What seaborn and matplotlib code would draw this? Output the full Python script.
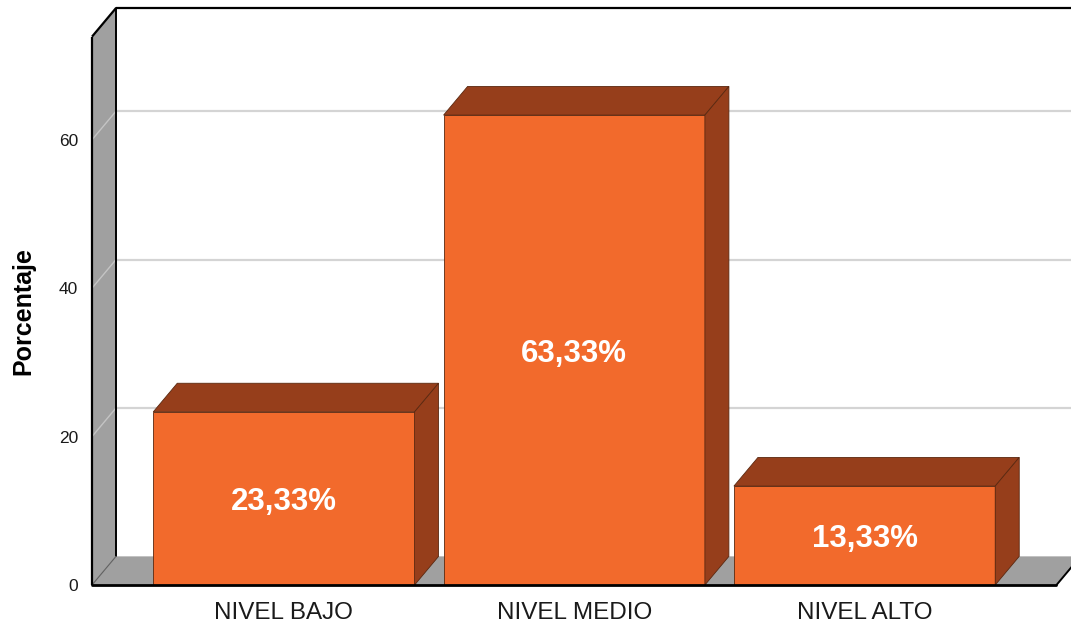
import matplotlib
matplotlib.use("Agg")
import matplotlib.pyplot as plt
from matplotlib.patches import Polygon
import seaborn as sns

# Data
categories = ["NIVEL BAJO", "NIVEL MEDIO", "NIVEL ALTO"]
percentages = [23.33, 63.33, 13.33]
value_labels = ["23,33%", "63,33%", "13,33%"]
y_ticks = [0, 20, 40, 60]

# Styling
FRONT = "#F26A2C"
SHADE = "#963E1B"
EDGE = "#5A2810"
WALL = "#A0A0A0"
GRID = "#D4D4D4"

sns.set_theme(style="white")
plt.rcParams["font.family"] = ["Liberation Sans", "DejaVu Sans"]

W, H, DPI = 1071, 625, 100
fig = plt.figure(figsize=(W / DPI, H / DPI), dpi=DPI)
fig.patch.set_facecolor("white")

# axes: front plane, y=0 at the front floor edge
ax = fig.add_axes([92 / W, 40 / H, (W - 92) / W, 585 / H])
ax.set_facecolor("none")
for s in ax.spines.values():
    s.set_visible(False)

x0, x1 = -0.661, 2.661          # front extent of the floor
XMAX, YMAX = 2.711, 78.84
dx, dy = 0.0827, 3.86           # depth offset of the 3-D box
ytop = 73.9                      # front height of the side wall

# front faces of the bars
sns.barplot(x=categories, y=percentages, color=FRONT, width=0.9, ax=ax,
            saturation=1, edgecolor=EDGE, linewidth=0.6, zorder=3)
ax.set_xlim(x0, XMAX)
ax.set_ylim(0, YMAX)
bars = list(ax.patches)

# back wall, floor and left wall
ax.add_patch(Polygon([(x0 + dx, dy), (x1 + dx + 1, dy), (x1 + dx + 1, ytop + dy),
                      (x0 + dx, ytop + dy)], closed=True, facecolor="white",
                     edgecolor="none", zorder=0))
ax.add_patch(Polygon([(x0, 0), (x1, 0), (x1 + dx, dy), (x0 + dx, dy)], closed=True,
                     facecolor=WALL, edgecolor="none", zorder=0.5))
ax.add_patch(Polygon([(x0, 0), (x0 + dx, dy), (x0 + dx, ytop + dy), (x0, ytop)],
                     closed=True, facecolor=WALL, edgecolor="none", zorder=0.5))

# gridlines on the back wall and across the left wall
for v in y_ticks[1:]:
    ax.plot([x0 + dx, 3.0], [v + dy, v + dy], color=GRID, lw=1.6, zorder=0.8,
            solid_capstyle="butt")
    ax.plot([x0, x0 + dx], [v, v + dy], color="#C4C4C4", lw=1.0, zorder=0.8)

# box outline
k = dict(color="black", lw=1.6, zorder=6, clip_on=False, solid_capstyle="butt")
ax.plot([x0, x0], [0, ytop], **k)
ax.plot([x0, x0 + dx], [ytop, ytop + dy], **k)
ax.plot([x0 + dx, 3.0], [ytop + dy, ytop + dy], **k)
ax.plot([x0 + dx, x0 + dx], [dy, ytop + dy], color="black", lw=1.4, zorder=0.9)
ax.plot([x0, x1], [0, 0], color="black", lw=2.0, zorder=6, clip_on=False)
ax.plot([x1, x1 + dx], [0, dy], color="black", lw=1.4, zorder=6, clip_on=False)
ax.plot([x0, x0 + dx], [0, dy], color="#606060", lw=0.8, zorder=0.9)

for patch, lab in zip(bars, value_labels):
    bx, bw, bh = patch.get_x(), patch.get_width(), patch.get_height()
    patch.set_zorder(3)
    top = Polygon([(bx, bh), (bx + bw, bh), (bx + bw + dx, bh + dy), (bx + dx, bh + dy)],
                  closed=True, facecolor=SHADE, edgecolor=EDGE, lw=0.6, zorder=3)
    side = Polygon([(bx + bw, 0), (bx + bw + dx, dy), (bx + bw + dx, bh + dy), (bx + bw, bh)],
                   closed=True, facecolor=SHADE, edgecolor=EDGE, lw=0.6, zorder=3)
    ax.add_patch(top)
    ax.add_patch(side)
    ax.text(bx + bw / 2, bh / 2, lab, ha="center", va="center_baseline", color="white",
            fontsize=22.5, fontweight="bold", zorder=5)

ax.set_xlim(x0, XMAX)
ax.set_ylim(0, YMAX)
ax.set_yticks(y_ticks)
ax.set_yticklabels([str(t) for t in y_ticks])
ax.tick_params(axis="y", length=0, pad=10, labelsize=12.5, labelcolor="#1a1a1a")
ax.tick_params(axis="x", length=0, pad=12, labelsize=17.5, labelcolor="#1a1a1a")
ax.set_xlabel("")
ax.set_ylabel("")

fig.text(23 / W, 1 - 311 / H, "Porcentaje", rotation=90, ha="center", va="center",
         fontsize=18, fontweight="bold", color="black")

fig.savefig("out.png", dpi=DPI)
